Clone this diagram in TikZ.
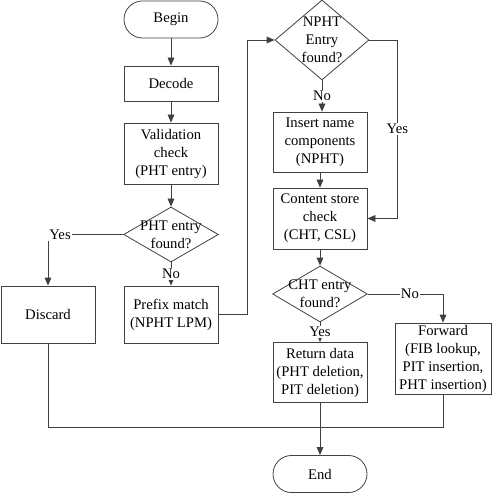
\documentclass[tikz,border=0pt]{standalone}
\usepackage{fontspec}
\setmainfont{Liberation Serif}
\usetikzlibrary{shapes.geometric,arrows.meta}

\tikzset{
  line/.style={draw=black!75, line width=0.6pt},
  arr/.style={line, -{Triangle[length=6pt,width=5pt]}},
  stepbox/.style={rectangle, line, minimum width=70.5pt, align=center, inner sep=1pt, font=\fontsize{11}{13.5}\selectfont},
  term/.style={rectangle, rounded corners=13.9pt, line, minimum width=70.5pt, minimum height=27.8pt, font=\fontsize{11}{13.5}\selectfont},
  decide/.style={diamond, line, inner xsep=-12pt, inner ysep=-6pt, align=center, font=\fontsize{11}{13.5}\selectfont},
  lbl/.style={fill=white, inner sep=1pt, font=\fontsize{11}{13.5}\selectfont}
}

\begin{document}
\begin{tikzpicture}[x=0.75pt, y=-0.75pt]
  \useasboundingbox (0,0) rectangle (492,495);

  \node[term] (begin) at (171,19.5) {Begin};
  \node[stepbox, minimum height=26.25pt] (decode) at (171,83.5) {Decode};
  \node[stepbox, minimum height=45.75pt] (valid) at (171,153.5) {Validation\\check\\(PHT entry)};
  \node[decide, minimum width=71pt, minimum height=41.25pt] (phtq) at (171,234.5) {PHT entry\\found?};
  \node[stepbox, minimum height=42.75pt] (discard) at (48,314.5) {Discard};
  \node[stepbox, minimum height=42.75pt] (prefix) at (171,314.5) {Prefix match\\(NPHT LPM)};

  \node[decide, minimum width=70.5pt, minimum height=60pt] (nphtq) at (322,40) {NPHT\\Entry\\found?};
  \node[stepbox, minimum height=45pt] (insert) at (320,142) {Insert name\\components\\(NPHT)};
  \node[stepbox, minimum height=45.75pt] (content) at (320,218.5) {Content store\\check\\(CHT, CSL)};
  \node[decide, minimum width=71pt, minimum height=42pt] (chtq) at (320,294) {CHT entry\\found?};
  \node[stepbox, minimum height=45pt] (ret) at (320,372.5) {Return data\\(PHT deletion,\\PIT deletion)};
  \node[stepbox, minimum width=72pt, minimum height=53.25pt] (forward) at (443,358.5) {Forward\\(FIB lookup,\\PIT insertion,\\PHT insertion)};
  \node[term] (end) at (320,474) {End};
  \coordinate (join) at (320,427);

  \draw[arr] (begin) -- (decode);
  \draw[arr] (decode) -- (valid);
  \draw[arr] (valid) -- (phtq);
  \draw[arr] (phtq.west) -| node[lbl, pos=0.42] {Yes} (discard.north);
  \draw[arr] (phtq) -- node[lbl] {No} (prefix);
  \draw[arr] (prefix.east) -- ++(29,0) |- (nphtq.west);
  \draw[arr] (nphtq.south) -- node[lbl] {No} (nphtq.south |- insert.north);
  \draw[arr] (nphtq.east) -- ++(28,0) |- node[lbl, pos=0.25] {Yes} (content.east);
  \draw[arr] (insert) -- (content);
  \draw[arr] (content) -- (chtq);
  \draw[arr] (chtq) -- node[lbl] {Yes} (ret);
  \draw[arr] (chtq.east) -| node[lbl, pos=0.28] {No} (forward.north);
  \draw[line] (discard.south) |- (join);
  \draw[line] (forward.south) |- (join);
  \draw[arr] (ret) -- (end);
\end{tikzpicture}
\end{document}
